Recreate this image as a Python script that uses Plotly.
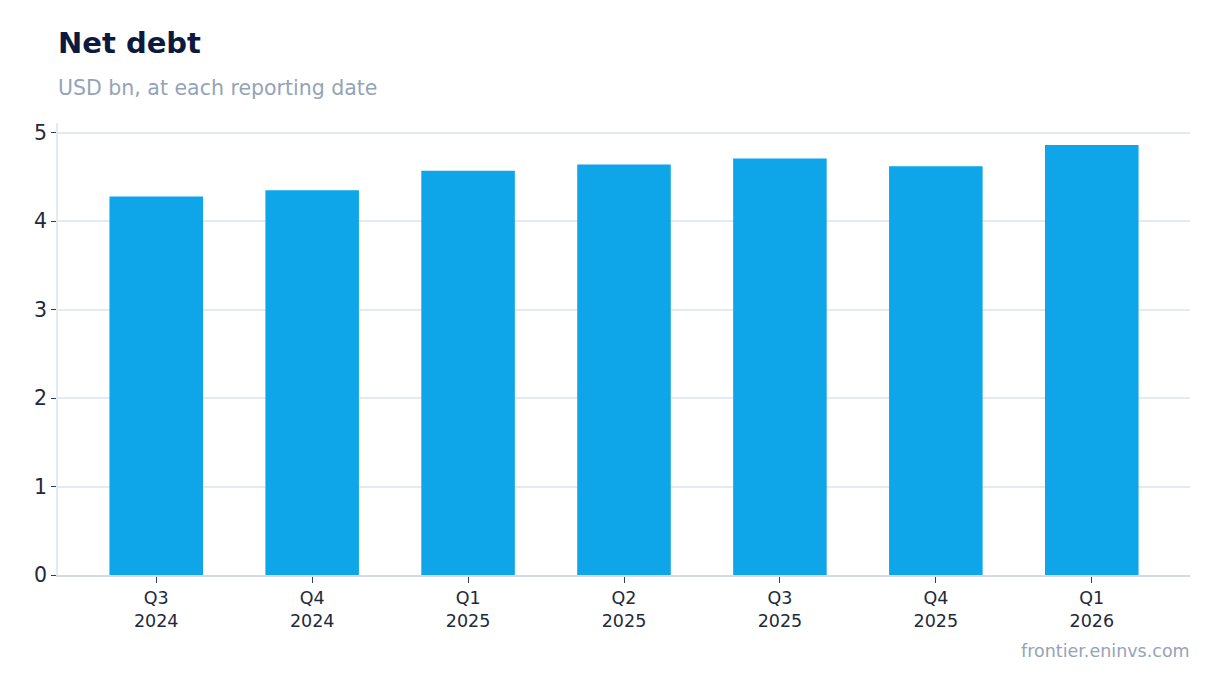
import plotly.graph_objects as go

# quarterly net debt, USD bn
quarters = ["Q3<br>2024", "Q4<br>2024", "Q1<br>2025", "Q2<br>2025",
            "Q3<br>2025", "Q4<br>2025", "Q1<br>2026"]
net_debt = [4.28, 4.35, 4.57, 4.64, 4.71, 4.62, 4.86]

y_ticks = [0, 1, 2, 3, 4, 5]

fig = go.Figure(
    go.Bar(
        x=quarters,
        y=net_debt,
        marker=dict(color="#0EA5E9", line=dict(width=0)),
        width=0.6,
        hovertemplate="%{x}: %{y:.2f}<extra></extra>",
    )
)

fig.update_layout(
    width=1220,
    height=693,
    margin=dict(l=50, r=38, t=115, b=126),
    paper_bgcolor="white",
    plot_bgcolor="white",
    font=dict(family="DejaVu Sans", color="#1e293b"),
    showlegend=False,
    xaxis=dict(
        range=[-0.63, len(quarters) - 0.37],
        showgrid=False,
        showline=True,
        linecolor="#d5dae3",
        linewidth=1.5,
        ticks="outside",
        ticklen=6,
        tickcolor="#334155",
        tickfont=dict(size=17.5, color="#1e293b"),
    ),
    yaxis=dict(
        range=[0, 5.11],
        tickvals=y_ticks,
        showgrid=True,
        gridcolor="#e5e9f0",
        gridwidth=1.5,
        zeroline=False,
        showline=True,
        linecolor="#e5e9f0",
        linewidth=1.5,
        ticks="outside",
        ticklen=5,
        tickcolor="#334155",
        tickfont=dict(size=20.5, color="#1e293b"),
    ),
)

fig.add_annotation(
    text="<b>Net debt</b>", xref="paper", yref="paper", x=0, y=1,
    xanchor="left", yanchor="bottom", xshift=-2, yshift=61, showarrow=False,
    font=dict(size=29, color="#0c1a3d"),
)
fig.add_annotation(
    text="USD bn, at each reporting date", xref="paper", yref="paper",
    x=0, y=1, xanchor="left", yanchor="bottom", xshift=-2, yshift=21,
    showarrow=False, font=dict(size=20.5, color="#94a3b8"),
)
fig.add_annotation(
    text="frontier.eninvs.com", xref="paper", yref="paper", x=1, y=0,
    xanchor="right", yanchor="top", xshift=2, yshift=-64, showarrow=False,
    font=dict(size=17.5, color="#94a3b8"),
)

fig.write_html("out.html")
